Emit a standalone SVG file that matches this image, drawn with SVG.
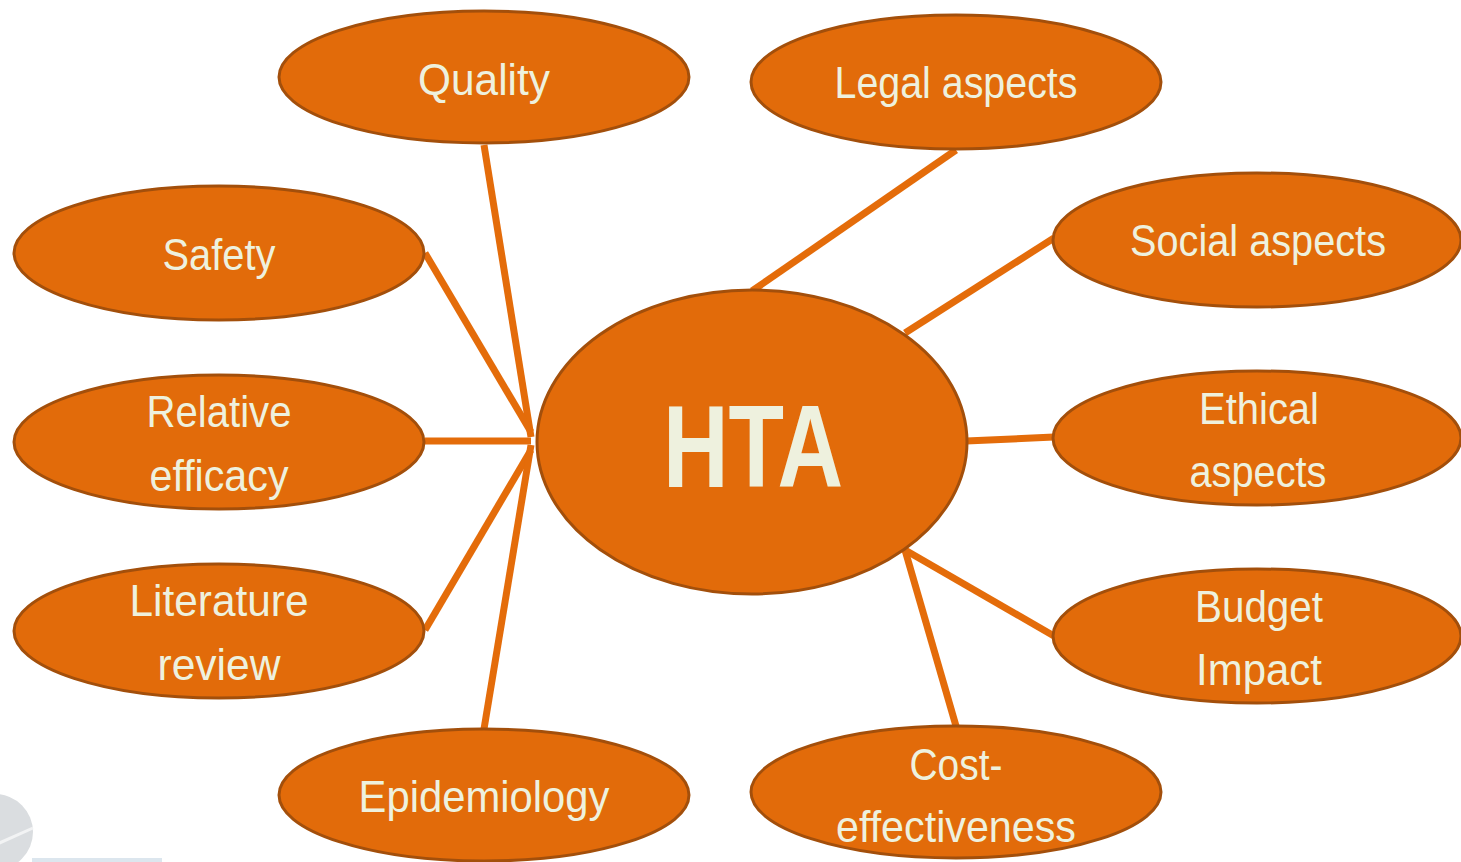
<svg xmlns="http://www.w3.org/2000/svg" width="1461" height="862" viewBox="0 0 1461 862">
<style>
.n{fill:#E26B0A;stroke:#A34F0B;stroke-width:3}
.t{font-family:"Liberation Sans",Arial,sans-serif;font-size:45px;fill:#EEF1DE;text-anchor:middle}
.h{font-family:"Liberation Sans",Arial,sans-serif;font-size:117px;font-weight:bold;fill:#EEF1DE;text-anchor:middle}
.c{stroke:#E46C0A;stroke-width:7;fill:none;stroke-linecap:butt}
</style>
<rect width="1461" height="862" fill="#FFFFFF"/>
<g id="deco">
<circle cx="-5" cy="832" r="38" fill="#DADDE0"/>
<path d="M-5 845 L33 828" stroke="#F2F3F4" stroke-width="3"/>
<rect x="32" y="858" width="130" height="4" fill="#DCE6EE"/>
</g>
<g id="connectors">
<line class="c" x1="484" y1="145" x2="531" y2="437"/>
<line class="c" x1="425" y1="253" x2="531" y2="432"/>
<line class="c" x1="425" y1="441" x2="531" y2="441"/>
<line class="c" x1="425" y1="630" x2="531" y2="450"/>
<line class="c" x1="484" y1="729" x2="531" y2="445"/>
<line class="c" x1="956" y1="150" x2="752" y2="291"/>
<line class="c" x1="1054" y1="238" x2="905" y2="333"/>
<line class="c" x1="1054" y1="437" x2="966" y2="441"/>
<line class="c" x1="1054" y1="636" x2="905" y2="550"/>
<line class="c" x1="956" y1="726" x2="905" y2="550"/>
</g>
<g id="hta">
<ellipse class="n" cx="752" cy="442" rx="215" ry="152"/>
<text class="h" x="753" y="487" textLength="180" lengthAdjust="spacingAndGlyphs">HTA</text>
</g>
<g id="quality">
<ellipse class="n" cx="484" cy="77" rx="205" ry="66"/>
<text class="t" x="484" y="95" textLength="132" lengthAdjust="spacingAndGlyphs">Quality</text>
</g>
<g id="legal">
<ellipse class="n" cx="956" cy="82" rx="205" ry="67"/>
<text class="t" x="956" y="98" textLength="243" lengthAdjust="spacingAndGlyphs">Legal aspects</text>
</g>
<g id="safety">
<ellipse class="n" cx="219" cy="253" rx="205" ry="67"/>
<text class="t" x="219" y="270" textLength="113" lengthAdjust="spacingAndGlyphs">Safety</text>
</g>
<g id="social">
<ellipse class="n" cx="1257" cy="240" rx="204" ry="67"/>
<text class="t" x="1258" y="256" textLength="256" lengthAdjust="spacingAndGlyphs">Social aspects</text>
</g>
<g id="relative">
<ellipse class="n" cx="219" cy="442" rx="205" ry="67"/>
<text class="t" x="219" y="427" textLength="145" lengthAdjust="spacingAndGlyphs">Relative</text>
<text class="t" x="219" y="491" textLength="139" lengthAdjust="spacingAndGlyphs">efficacy</text>
</g>
<g id="ethical">
<ellipse class="n" cx="1257" cy="438" rx="204" ry="67"/>
<text class="t" x="1259" y="424" textLength="120" lengthAdjust="spacingAndGlyphs">Ethical</text>
<text class="t" x="1258" y="487" textLength="137" lengthAdjust="spacingAndGlyphs">aspects</text>
</g>
<g id="literature">
<ellipse class="n" cx="219" cy="631" rx="205" ry="67"/>
<text class="t" x="219" y="616" textLength="179" lengthAdjust="spacingAndGlyphs">Literature</text>
<text class="t" x="219" y="680" textLength="123" lengthAdjust="spacingAndGlyphs">review</text>
</g>
<g id="budget">
<ellipse class="n" cx="1257" cy="636" rx="204" ry="67"/>
<text class="t" x="1259" y="622" textLength="128" lengthAdjust="spacingAndGlyphs">Budget</text>
<text class="t" x="1259" y="685" textLength="126" lengthAdjust="spacingAndGlyphs">Impact</text>
</g>
<g id="epidemiology">
<ellipse class="n" cx="484" cy="795" rx="205" ry="66"/>
<text class="t" x="484" y="812" textLength="251" lengthAdjust="spacingAndGlyphs">Epidemiology</text>
</g>
<g id="cost">
<ellipse class="n" cx="956" cy="792" rx="205" ry="66"/>
<text class="t" x="956" y="780" textLength="93" lengthAdjust="spacingAndGlyphs">Cost-</text>
<text class="t" x="956" y="842" textLength="240" lengthAdjust="spacingAndGlyphs">effectiveness</text>
</g>
</svg>
